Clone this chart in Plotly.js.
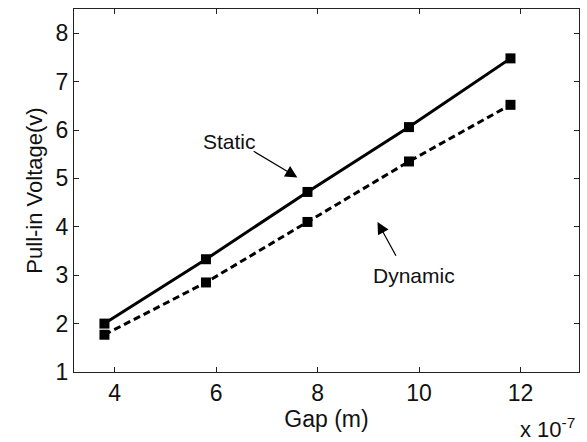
<!DOCTYPE html>
<html>
<head>
<meta charset="utf-8">
<script src="https://cdn.plot.ly/plotly-3.0.1.min.js"></script>
<style>html,body{margin:0;padding:0;background:#fff;}#chart{width:587px;height:442px;}</style>
</head>
<body>
<div id="chart"></div>
<script>
// Gap in units of 1e-7 m
var gap = [3.8, 5.8, 7.8, 9.8, 11.8];
var staticV = [2.0, 3.33, 4.72, 6.06, 7.48];
var dynamicV = [1.77, 2.85, 4.10, 5.35, 6.52];
var xTicks = [4, 6, 8, 10, 12];
var yTicks = [1, 2, 3, 4, 5, 6, 7, 8];

var FONT = 'Liberation Sans, Arial, sans-serif';

var traces = [
  {x: gap, y: staticV, type: 'scatter', mode: 'lines+markers', name: 'Static',
   line: {color: '#000', width: 3}, marker: {symbol: 'square', size: 10, color: '#000'}},
  {x: gap, y: dynamicV, type: 'scatter', mode: 'lines+markers', name: 'Dynamic',
   line: {color: '#000', width: 3, dash: '7px,4px'}, marker: {symbol: 'square', size: 10, color: '#000'}}
];

var layout = {
  width: 587, height: 442,
  margin: {l: 74, r: 8, t: 9, b: 70},
  paper_bgcolor: '#fff', plot_bgcolor: '#fff',
  showlegend: false,
  font: {family: FONT, color: '#111'},
  xaxis: {
    range: [3.2, 13.15], tickvals: xTicks, ticktext: xTicks.map(String),
    showgrid: false, zeroline: false, showline: true, linecolor: '#222', linewidth: 1,
    mirror: 'ticks', ticks: 'inside', ticklen: 5, tickcolor: '#222',
    tickfont: {size: 23, family: FONT},
    title: {text: 'Gap (m)', font: {size: 23, family: FONT}, standoff: 2}
  },
  yaxis: {
    range: [1, 8.5], tickvals: yTicks,
    showgrid: false, zeroline: false, showline: true, linecolor: '#222', linewidth: 1,
    mirror: 'ticks', ticks: 'inside', ticklen: 5, tickcolor: '#222',
    tickfont: {size: 23, family: FONT},
    title: {text: 'Pull-in Voltage(v)', font: {size: 22, family: FONT}, standoff: 6}
  },
  annotations: [
    {x: 7.60, y: 5.02, ax: 6.71, ay: 5.58, axref: 'x', ayref: 'y', xref: 'x', yref: 'y',
     text: '', showarrow: true, arrowhead: 2, arrowsize: 2, arrowwidth: 1.2, arrowcolor: '#000'},
    {x: 9.18, y: 4.10, ax: 9.56, ay: 3.37, axref: 'x', ayref: 'y', xref: 'x', yref: 'y',
     text: '', showarrow: true, arrowhead: 2, arrowsize: 2, arrowwidth: 1.2, arrowcolor: '#000'},
    {x: 6.27, y: 5.77, xref: 'x', yref: 'y', text: 'Static', showarrow: false,
     font: {size: 21, family: FONT, color: '#111'}},
    {x: 9.90, y: 2.99, xref: 'x', yref: 'y', text: 'Dynamic', showarrow: false,
     font: {size: 21, family: FONT, color: '#111'}},
    {x: 1.0, y: 0, xref: 'paper', yref: 'paper', xanchor: 'right', yanchor: 'top', yshift: -40, xshift: -2,
     text: 'x 10<sup>-7</sup>', showarrow: false, font: {size: 22, family: FONT, color: '#111'}}
  ]
};

Plotly.newPlot('chart', traces, layout, {displayModeBar: false, staticPlot: true});
</script>
</body>
</html>
